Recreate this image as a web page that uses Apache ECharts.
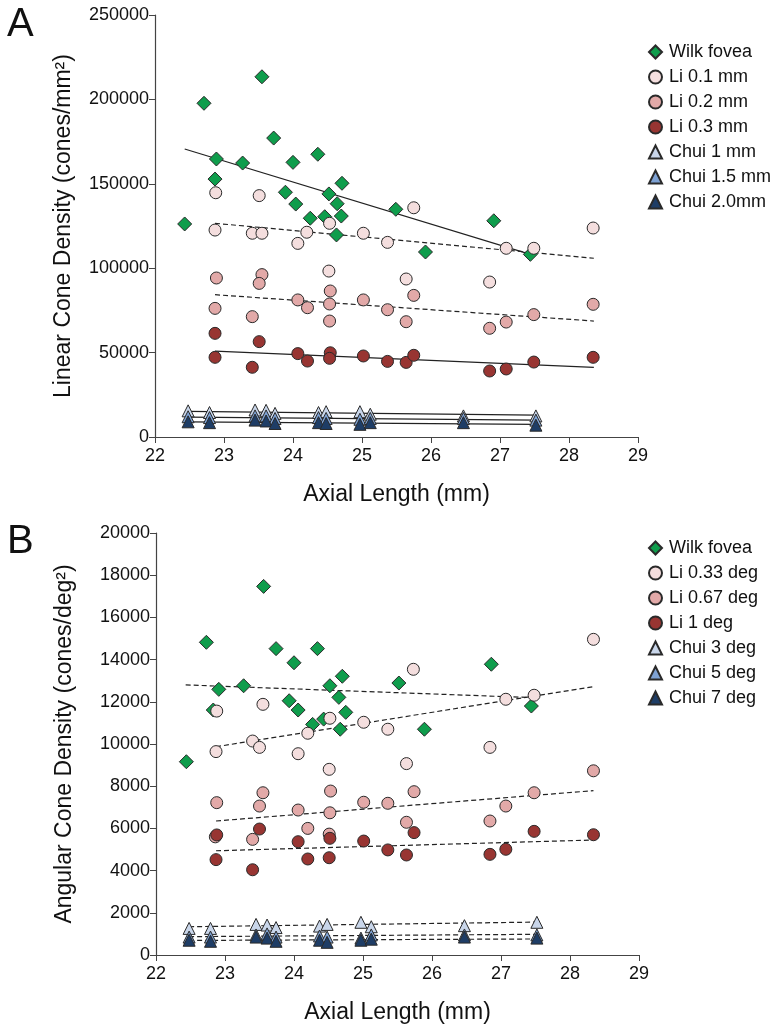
<!DOCTYPE html>
<html><head><meta charset="utf-8">
<script src="https://cdn.jsdelivr.net/npm/echarts@6/dist/echarts.min.js"></script>
<style>html,body{margin:0;padding:0;background:#fff}#c{width:776px;height:1027px}</style>
</head><body><div id="c"></div>
<script>
// ---------- Panel A (linear cone density, cones/mm^2) ----------
const wilkA = [[22.43,126200],[22.71,197700],[22.87,152800],[22.89,164700],[23.27,162300],[23.55,213400],[23.72,177100],[23.89,145000],[24.00,162700],[24.04,138000],[24.25,129600],[24.36,167500],[24.46,130500],[24.52,144000],[24.63,119700],[24.64,138200],[24.70,130900],[24.71,150300],[25.49,134900],[25.92,109600],[26.91,128100],[27.44,108200]];
const li01A = [[22.88,144700],[22.87,122600],[23.51,143000],[23.41,120700],[23.55,120700],[24.07,114700],[24.20,121300],[24.53,126600],[24.52,98300],[25.02,120700],[25.37,115300],[25.75,135800],[25.64,93600],[26.85,91800],[27.09,111800],[27.49,111800],[28.35,123800]];
const li02A = [[22.89,94200],[22.87,76200],[23.55,96200],[23.51,91000],[23.41,71300],[24.07,81200],[24.21,76600],[24.54,86500],[24.53,78800],[24.53,68700],[25.02,81200],[25.37,75400],[25.64,68300],[25.75,83900],[26.85,64400],[27.09,68100],[27.49,72500],[28.35,78600]];
const li03A = [[22.87,61400],[22.87,47200],[23.51,56500],[23.41,41300],[24.07,49400],[24.21,45000],[24.54,49900],[24.53,46600],[25.02,48000],[25.37,44800],[25.64,44200],[25.75,48400],[26.85,39100],[27.09,40300],[27.49,44400],[28.35,47200]];
const chuiX = [22.48,22.79,23.45,23.61,23.74,24.37,24.48,24.97,25.12,26.47,27.52];
const chui1A = [15500,14500,16000,15800,14000,14500,15000,15000,13500,12500,12500];
const chui15A = [12000,11500,12500,12500,11000,11500,11000,10500,11000,11000,10000];
const chui20A = [9000,8500,10000,9500,8000,8500,8000,7500,8500,8500,7000];
const trendWilkA = [[22.43,170600],[27.44,108200]];
const trendLi01A = [[22.87,126600],[28.36,105900]];
const trendLi02A = [[22.87,84300],[28.36,68700]];
const trendLi03A = [[22.87,50900],[28.36,41300]];
const trendChui1A = [[22.48,15200],[27.52,12900]];
const trendChui15A = [[22.48,11800],[27.52,10000]];
const trendChui20A = [[22.48,9000],[27.52,7500]];
const yTicksA = [0,50000,100000,150000,200000,250000];

// ---------- Panel B (angular cone density, cones/deg^2) ----------
const wilkB = [[22.44,9160],[22.73,14820],[22.83,11610],[22.91,12590],[23.27,12760],[23.56,17470],[23.74,14520],[23.93,12050],[24.00,13850],[24.06,11610],[24.27,10930],[24.34,14520],[24.43,11180],[24.52,12760],[24.65,12210],[24.67,10700],[24.70,13210],[24.75,11500],[25.52,12890],[25.89,10700],[26.86,13780],[27.44,11800]];
const li033B = [[22.88,11560],[22.87,9640],[23.55,11880],[23.40,10140],[23.50,9840],[24.06,9540],[24.20,10510],[24.52,11220],[24.51,8800],[25.01,11030],[25.36,10700],[25.63,9070],[25.73,13540],[26.84,9840],[27.07,12120],[27.48,12310],[28.34,14960]];
const li067B = [[22.88,7220],[22.86,5600],[23.40,5480],[23.50,7060],[23.55,7690],[24.06,6870],[24.20,6000],[24.53,7770],[24.52,6740],[24.51,5730],[25.01,7240],[25.36,7190],[25.63,6290],[25.74,7740],[26.84,6350],[27.07,7060],[27.48,7690],[28.34,8730]];
const li1B = [[22.88,5690],[22.87,4520],[23.50,5970],[23.40,4040],[24.06,5370],[24.20,4550],[24.52,5530],[24.51,4610],[25.01,5400],[25.36,4980],[25.63,4740],[25.74,5800],[26.84,4770],[27.07,5010],[27.48,5860],[28.34,5700]];
const chui3B = [1260,1260,1450,1420,1300,1370,1450,1550,1340,1390,1550];
const chui5B = [850,850,950,1000,850,900,850,800,950,950,950];
const chui7B = [700,650,850,800,650,700,600,700,750,850,800];
const trendWilkB = [[22.43,12800],[27.44,12200]];
const trendLi033B = [[22.87,9870],[28.34,12720]];
const trendLi067B = [[22.87,6350],[28.34,7790]];
const trendLi1B = [[22.87,4940],[28.34,5450]];
const trendChui3B = [[22.48,1340],[27.52,1560]];
const trendChui5B = [[22.48,870],[27.52,980]];
const trendChui7B = [[22.48,690],[27.52,760]];
const xTicks = [22,23,24,25,26,27,28,29];

const namesA = ['Wilk fovea','Li 0.1 mm','Li 0.2 mm','Li 0.3 mm','Chui 1 mm','Chui 1.5 mm','Chui 2.0mm'];
const namesB = ['Wilk fovea ','Li 0.33 deg','Li 0.67 deg','Li 1 deg','Chui 3 deg','Chui 5 deg','Chui 7 deg'];

const FONT = 'Liberation Sans, Arial, sans-serif';
const C = {
  wilk:'#0f9d4c', li1:'#f4dede', li2:'#e2a9a8', li3:'#983532',
  ch1:'#c9d6ea', ch2:'#7ea2d4', ch3:'#1e3d66'
};
const zip = (xs, ys) => xs.map((x,i)=>[x, ys[i]]);

function scatter(name, data, color, symbol, size, idx){
  return {type:'scatter', name, data, symbol, symbolSize:size, xAxisIndex:idx, yAxisIndex:idx,
    itemStyle:{color, borderColor:'#2a2a2a', borderWidth:1, opacity:1}, z:3};
}
function trend(data, dashed, idx){
  return {type:'line', data, xAxisIndex:idx, yAxisIndex:idx, symbol:'none', silent:true,
    lineStyle:{color:'#222', width:1.2, type: dashed ? [5,3] : 'solid'}, z:2};
}
function xAxis(idx){
  return {type:'value', gridIndex:idx, min:xTicks[0], max:xTicks[xTicks.length-1], interval:1,
    name:'Axial Length (mm)', nameLocation:'middle', nameGap:46,
    nameTextStyle:{fontFamily:FONT, fontSize:23, color:'#111'},
    axisLine:{lineStyle:{color:'#444', width:1.2}},
    axisTick:{show:true, length:6, lineStyle:{color:'#444'}},
    axisLabel:{fontFamily:FONT, fontSize:18, color:'#111', margin:10, formatter:v=>String(v)},
    splitLine:{show:false}};
}
function yAxis(idx, max, interval, name){
  return {type:'value', gridIndex:idx, min:0, max, interval,
    name, nameLocation:'middle', nameGap:80, nameRotate:90,
    nameTextStyle:{fontFamily:FONT, fontSize:23, color:'#111'},
    axisLine:{show:true, lineStyle:{color:'#444', width:1.2}},
    axisTick:{show:true, length:6, lineStyle:{color:'#444'}},
    axisLabel:{fontFamily:FONT, fontSize:18, color:'#111', margin:6, formatter:v=>String(v)},
    splitLine:{show:false}};
}
function legend(names, top){
  return {orient:'vertical', left:643, top, itemWidth:13, itemHeight:13, itemGap:7,
    data:names, selectedMode:false,
    textStyle:{fontFamily:FONT, fontSize:18, color:'#111', padding:[0,0,0,2]}};
}

const series = [
  scatter(namesA[0], wilkA, C.wilk, 'diamond', 14, 0),
  scatter(namesA[1], li01A, C.li1, 'circle', 12, 0),
  scatter(namesA[2], li02A, C.li2, 'circle', 12, 0),
  scatter(namesA[3], li03A, C.li3, 'circle', 12, 0),
  scatter(namesA[4], zip(chuiX, chui1A), C.ch1, 'triangle', 12, 0),
  scatter(namesA[5], zip(chuiX, chui15A), C.ch2, 'triangle', 12, 0),
  scatter(namesA[6], zip(chuiX, chui20A), C.ch3, 'triangle', 12, 0),
  trend(trendWilkA, false, 0), trend(trendLi01A, true, 0), trend(trendLi02A, true, 0), trend(trendLi03A, false, 0),
  trend(trendChui1A, false, 0), trend(trendChui15A, false, 0), trend(trendChui20A, false, 0),
  scatter(namesB[0], wilkB, C.wilk, 'diamond', 14, 1),
  scatter(namesB[1], li033B, C.li1, 'circle', 12, 1),
  scatter(namesB[2], li067B, C.li2, 'circle', 12, 1),
  scatter(namesB[3], li1B, C.li3, 'circle', 12, 1),
  scatter(namesB[4], zip(chuiX, chui3B), C.ch1, 'triangle', 12, 1),
  scatter(namesB[5], zip(chuiX, chui5B), C.ch2, 'triangle', 12, 1),
  scatter(namesB[6], zip(chuiX, chui7B), C.ch3, 'triangle', 12, 1),
  trend(trendWilkB, true, 1), trend(trendLi033B, true, 1), trend(trendLi067B, true, 1), trend(trendLi1B, true, 1),
  trend(trendChui3B, true, 1), trend(trendChui5B, true, 1), trend(trendChui7B, true, 1)
];

const chart = echarts.init(document.getElementById('c'), null, {renderer:'canvas'});
chart.setOption({
  animation:false,
  backgroundColor:'#fff',
  title:[
    {text:'A', left:2, top:0, textStyle:{fontFamily:FONT, fontSize:40, fontWeight:'normal', color:'#111'}},
    {text:'B', left:2, top:517, textStyle:{fontFamily:FONT, fontSize:40, fontWeight:'normal', color:'#111'}}
  ],
  grid:[
    {left:155, top:15, width:483, height:422},
    {left:156, top:533, width:483, height:422}
  ],
  xAxis:[xAxis(0), xAxis(1)],
  yAxis:[
    yAxis(0, yTicksA[yTicksA.length-1], 50000, 'Linear Cone Density (cones/mm²)'),
    yAxis(1, 20000, 2000, 'Angular Cone Density (cones/deg²)')
  ],
  legend:[legend(namesA, 38), legend(namesB, 534)],
  series
});
</script></body></html>
